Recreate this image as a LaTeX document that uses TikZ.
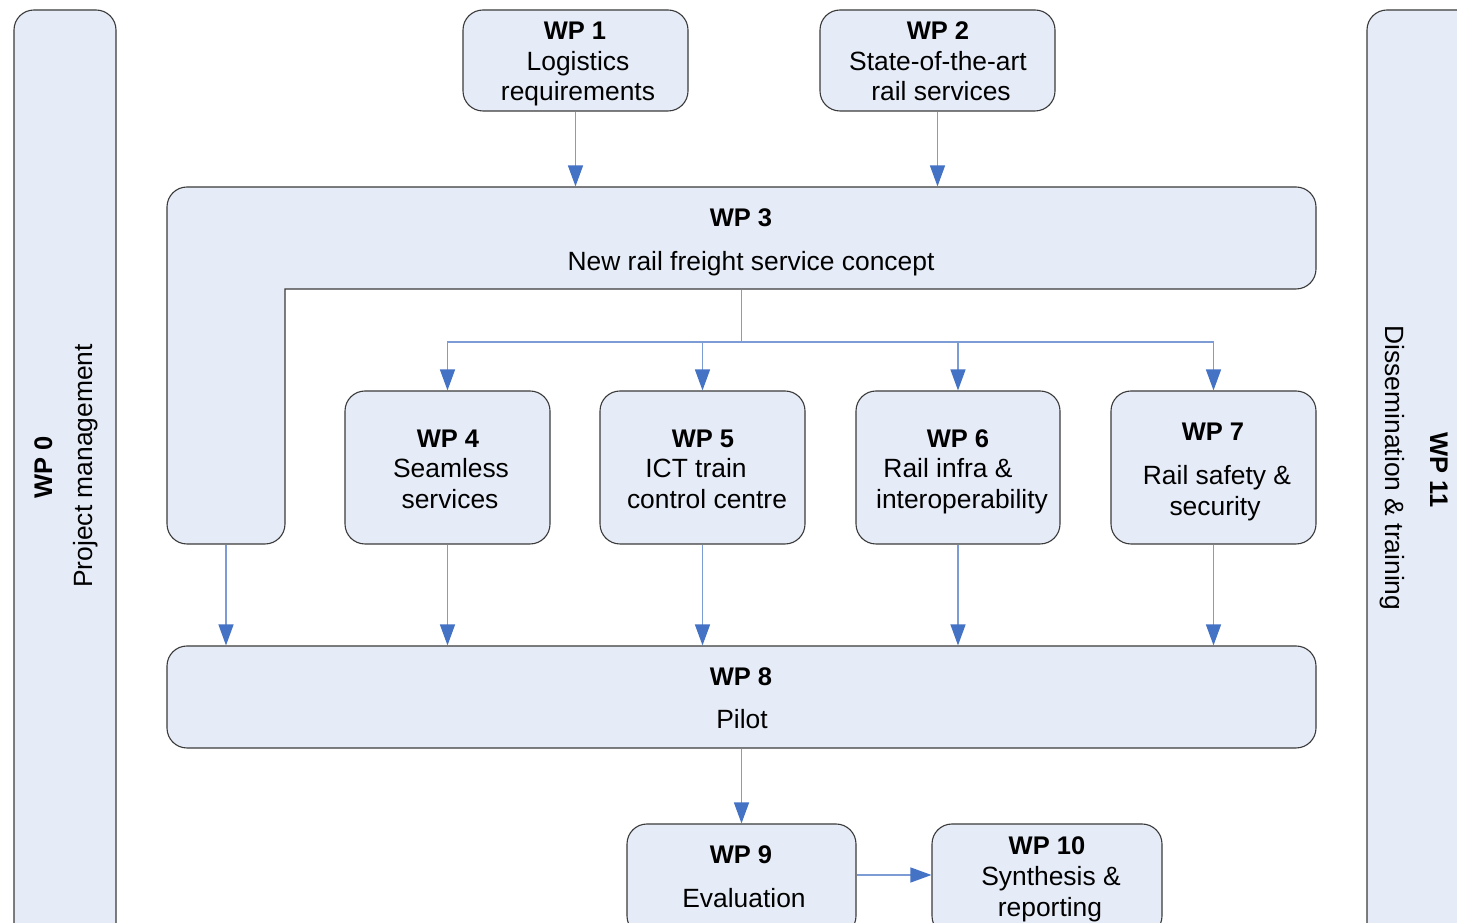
\documentclass[tikz,border=0pt]{standalone}
\usepackage{fontspec}
\setmainfont{Liberation Sans}
\usetikzlibrary{arrows.meta}
\definecolor{boxfill}{HTML}{E6ECF7}
\definecolor{boxline}{HTML}{3A3A3A}
\definecolor{connline}{HTML}{7D9CD5}
\definecolor{tipcol}{HTML}{4472C4}
\newcommand\fnt{\fontsize{26.4}{30}\selectfont}
\newcommand\fntb{\fontsize{25.5}{30}\selectfont\bfseries}
\tikzset{
  wpbox/.style={draw=boxline, fill=boxfill, line width=1.1pt, rounded corners=20pt, inner sep=0pt},
  lshape/.style={draw=boxline, fill=boxfill, line width=1.1pt},
  ghost/.style={inner sep=0pt, outer sep=0.55pt},
  conn/.style={draw=connline, line width=1.4pt, -{Triangle[length=21pt,width=15pt,color=tipcol]}},
  plain/.style={draw=connline, line width=1.4pt},
  lbl/.style={anchor=base, inner sep=0pt, font=\fnt},
  ttl/.style={anchor=base, inner sep=0pt, font=\fntb},
}
\begin{document}
\begin{tikzpicture}[x=1pt,y=1pt]
\useasboundingbox (0,0) rectangle (1457,923);
\clip (0,0) rectangle (1457,923);
% side boxes
\node[wpbox, minimum width=102pt, minimum height=953pt] (wp0) at (65,436.5) {};
\node[wpbox, minimum width=160pt, minimum height=953pt] (wp11) at (1447,436.5) {};
% top boxes
\node[wpbox, minimum width=225pt, minimum height=101pt] (wp1) at (575.5,862.5) {};
\node[wpbox, minimum width=235pt, minimum height=101pt] (wp2) at (937.5,862.5) {};
% WP3 L shape
\path[lshape] (187,736) -- (1296,736) arc[start angle=90,end angle=0,radius=20]
  -- (1316,654) arc[start angle=0,end angle=-90,radius=20]
  -- (285,634) -- (285,399) arc[start angle=0,end angle=-90,radius=20]
  -- (187,379) arc[start angle=270,end angle=180,radius=20]
  -- (167,716) arc[start angle=180,end angle=90,radius=20] -- cycle;
\node[ghost, minimum width=1149pt, minimum height=102pt] (wp3) at (741.5,685) {};
\node[ghost, minimum width=118pt, minimum height=357pt] (wp3v) at (226,557.5) {};
% middle row
\node[wpbox, minimum width=205pt, minimum height=153pt] (wp4) at (447.5,455.5) {};
\node[wpbox, minimum width=205pt, minimum height=153pt] (wp5) at (702.5,455.5) {};
\node[wpbox, minimum width=204pt, minimum height=153pt] (wp6) at (958,455.5) {};
\node[wpbox, minimum width=205pt, minimum height=153pt] (wp7) at (1213.5,455.5) {};
% WP8
\node[wpbox, minimum width=1149pt, minimum height=102pt] (wp8) at (741.5,226) {};
% bottom
\node[wpbox, minimum width=229pt, minimum height=112pt] (wp9) at (741.5,43) {};
\node[wpbox, minimum width=230pt, minimum height=112pt] (wp10) at (1047,43) {};
% connectors
\draw[conn] (wp1.south) -- (wp1.south |- wp3.north);
\draw[conn] (wp2.south) -- (wp2.south |- wp3.north);
\coordinate (split) at (741.5,581);
\draw[plain] (wp3.south) -- (split);
\draw[conn] (split) -| (wp4.north);
\draw[conn] (split) -| (wp5.north);
\draw[conn] (split) -| (wp6.north);
\draw[conn] (split) -| (wp7.north);
\draw[conn] (wp3v.south) -- (wp3v.south |- wp8.north);
\draw[conn] (wp4.south) -- (wp4.south |- wp8.north);
\draw[conn] (wp5.south) -- (wp5.south |- wp8.north);
\draw[conn] (wp6.south) -- (wp6.south |- wp8.north);
\draw[conn] (wp7.south) -- (wp7.south |- wp8.north);
\draw[conn] (wp8.south) -- (wp9.north);
\draw[conn] ([yshift=5pt]wp9.east) -- ([yshift=5pt]wp10.west);
% texts
\node[ttl, rotate=90] (t0a) at (52,456) {WP 0};
\node[lbl, rotate=90] (t0b) at (92,457) {Project management};
\node[ttl, rotate=-90] (t11a) at (1430,453) {WP 11};
\node[lbl, rotate=-90] (t11b) at (1385,455) {Dissemination \& training};
\node[ttl] (t1a) at (575,883) {WP 1};
\node[lbl] (t1b) at (578,852) {Logistics};
\node[lbl] (t1c) at (578,822) {requirements};
\node[ttl] (t2a) at (938,883) {WP 2};
\node[lbl] (t2b) at (938,852) {State-of-the-art};
\node[lbl] (t2c) at (941,822) {rail services};
\node[ttl] (t3a) at (741,696) {WP 3};
\node[lbl] (t3b) at (751,652) {New rail freight service concept};
\node[ttl] (t4a) at (448,475) {WP 4};
\node[lbl] (t4b) at (451,445) {Seamless};
\node[lbl] (t4c) at (450,414) {services};
\node[ttl] (t5a) at (703,475) {WP 5};
\node[lbl] (t5b) at (696,445) {ICT train};
\node[lbl] (t5c) at (707,414) {control centre};
\node[ttl] (t6a) at (958,475) {WP 6};
\node[lbl] (t6b) at (948,445) {Rail infra \&};
\node[lbl] (t6c) at (962,414) {interoperability};
\node[ttl] (t7a) at (1213,482) {WP 7};
\node[lbl] (t7b) at (1217,438) {Rail safety \&};
\node[lbl] (t7c) at (1215,407) {security};
\node[ttl] (t8a) at (741,237) {WP 8};
\node[lbl] (t8b) at (742,194) {Pilot};
\node[ttl] (t9a) at (741,59) {WP 9};
\node[lbl] (t9b) at (744,15) {Evaluation};
\node[ttl] (t10a) at (1047,68) {WP 10};
\node[lbl] (t10b) at (1051,37) {Synthesis \&};
\node[lbl] (t10c) at (1050,6) {reporting};
\end{tikzpicture}
\end{document}
